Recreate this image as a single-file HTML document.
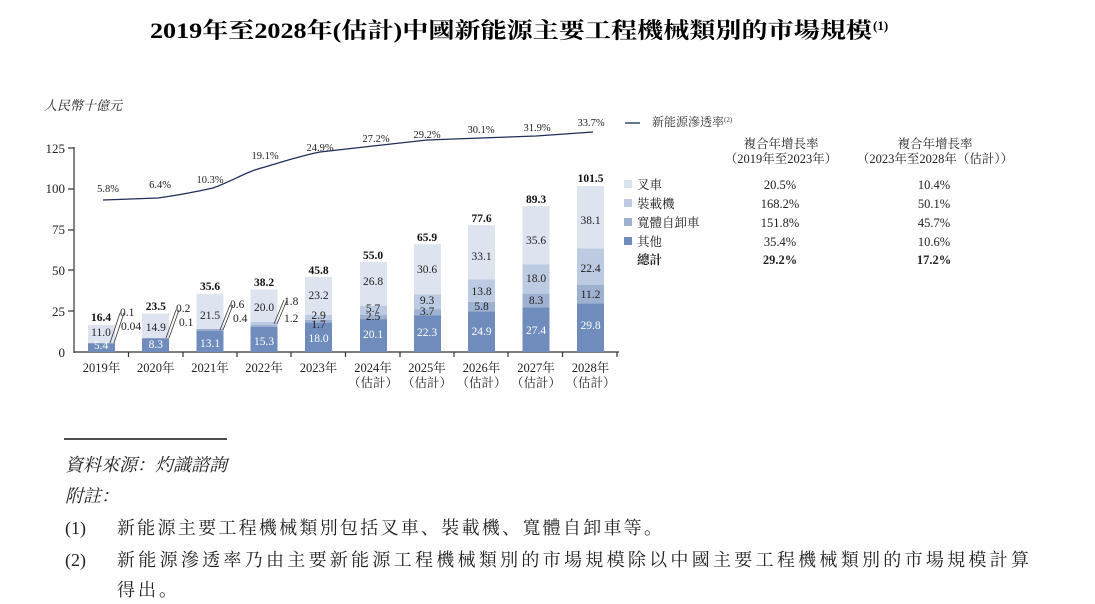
<!DOCTYPE html>
<html><head><meta charset="utf-8"><style>
html,body{margin:0;padding:0;background:#fff;}
svg{display:block;font-family:"Liberation Serif","Noto Serif CJK SC","Noto Sans CJK TC",serif;}
</style></head><body>
<svg width="1095" height="604" viewBox="0 0 1095 604" xmlns="http://www.w3.org/2000/svg">
<text x="150" y="38" font-size="22" font-weight="bold" textLength="722" lengthAdjust="spacingAndGlyphs">2019年至2028年(估計)中國新能源主要工程機械類別的市場規模</text>
<text x="873" y="30" font-size="13" font-weight="bold">(1)</text>

<text x="44" y="110" font-size="13" font-style="italic" fill="#222">人民幣十億元</text>

<g font-size="13" fill="#222" text-anchor="end">
<text x="65" y="357">0</text><text x="65" y="316">25</text><text x="65" y="275">50</text><text x="65" y="234">75</text><text x="65" y="193">100</text><text x="65" y="153">125</text>
</g>
<g stroke="#333" stroke-width="1.2">
<line x1="74" y1="147" x2="74" y2="353"/>
<line x1="74" y1="352" x2="619" y2="352"/>
<line x1="68" y1="148" x2="74" y2="148"/><line x1="68" y1="189" x2="74" y2="189"/><line x1="68" y1="230" x2="74" y2="230"/><line x1="68" y1="270" x2="74" y2="270"/><line x1="68" y1="311" x2="74" y2="311"/>
<line x1="128.5" y1="352" x2="128.5" y2="357"/><line x1="183" y1="352" x2="183" y2="357"/><line x1="237" y1="352" x2="237" y2="357"/><line x1="291" y1="352" x2="291" y2="357"/><line x1="345.5" y1="352" x2="345.5" y2="357"/><line x1="400" y1="352" x2="400" y2="357"/><line x1="454" y1="352" x2="454" y2="357"/><line x1="508" y1="352" x2="508" y2="357"/><line x1="562.5" y1="352" x2="562.5" y2="357"/><line x1="617" y1="352" x2="617" y2="357"/>
</g>

<g>
<rect x="88" y="343.2" width="27" height="8.8" fill="#6f8cbd"/>
<rect x="88" y="325" width="27" height="18" fill="#dde4f0"/>
<rect x="142" y="338.4" width="27" height="13.6" fill="#6f8cbd"/>
<rect x="142" y="338" width="27" height="0.6" fill="#9fb1d0"/>
<rect x="142" y="313.6" width="27" height="24.4" fill="#dde4f0"/>
<rect x="196.5" y="330.6" width="27" height="21.4" fill="#6f8cbd"/>
<rect x="196.5" y="329" width="27" height="1.6" fill="#9fb1d0"/>
<rect x="196.5" y="293.8" width="27" height="35.2" fill="#dde4f0"/>
<rect x="250.5" y="327" width="27" height="25" fill="#6f8cbd"/>
<rect x="250.5" y="325" width="27" height="2" fill="#9fb1d0"/>
<rect x="250.5" y="322" width="27" height="3" fill="#bccbe2"/>
<rect x="250.5" y="289.5" width="27" height="32.5" fill="#dde4f0"/>
<rect x="305" y="322.6" width="27" height="29.4" fill="#6f8cbd"/>
<rect x="305" y="319.8" width="27" height="2.8" fill="#9fb1d0"/>
<rect x="305" y="315" width="27" height="4.8" fill="#bccbe2"/>
<rect x="305" y="277" width="27" height="38" fill="#dde4f0"/>
<rect x="360" y="319.1" width="27" height="32.9" fill="#6f8cbd"/>
<rect x="360" y="315" width="27" height="4.1" fill="#9fb1d0"/>
<rect x="360" y="305.7" width="27" height="9.3" fill="#bccbe2"/>
<rect x="360" y="262" width="27" height="43.7" fill="#dde4f0"/>
<rect x="414" y="315.5" width="27" height="36.5" fill="#6f8cbd"/>
<rect x="414" y="309.5" width="27" height="6" fill="#9fb1d0"/>
<rect x="414" y="294.3" width="27" height="15.2" fill="#bccbe2"/>
<rect x="414" y="244.3" width="27" height="50" fill="#dde4f0"/>
<rect x="468" y="311.3" width="27" height="40.7" fill="#6f8cbd"/>
<rect x="468" y="301.8" width="27" height="9.5" fill="#9fb1d0"/>
<rect x="468" y="279.2" width="27" height="22.6" fill="#bccbe2"/>
<rect x="468" y="225.1" width="27" height="54.1" fill="#dde4f0"/>
<rect x="522.5" y="307.2" width="27" height="44.8" fill="#6f8cbd"/>
<rect x="522.5" y="293.6" width="27" height="13.6" fill="#9fb1d0"/>
<rect x="522.5" y="264.2" width="27" height="29.4" fill="#bccbe2"/>
<rect x="522.5" y="206" width="27" height="58.2" fill="#dde4f0"/>
<rect x="577" y="303.3" width="27" height="48.7" fill="#6f8cbd"/>
<rect x="577" y="285" width="27" height="18.3" fill="#9fb1d0"/>
<rect x="577" y="248.4" width="27" height="36.6" fill="#bccbe2"/>
<rect x="577" y="186" width="27" height="62.4" fill="#dde4f0"/>
</g>

<g stroke="#333" stroke-width="0.8">
<line x1="110" y1="343" x2="120" y2="313"/><line x1="114" y1="343" x2="124" y2="313"/>
<line x1="166" y1="338" x2="176" y2="310"/><line x1="169" y1="338" x2="179" y2="310"/>
<line x1="220" y1="330" x2="230" y2="305"/><line x1="223" y1="330" x2="233" y2="305"/>
<line x1="274" y1="324" x2="284" y2="300"/><line x1="277" y1="324" x2="287" y2="300"/>
</g>

<g font-size="11.5" fill="#222" text-anchor="middle">
<text x="101" y="349" fill="#fff">5.4</text><text x="101" y="336">11.0</text>
<text x="155.75" y="348" fill="#fff">8.3</text><text x="155.75" y="331">14.9</text>
<text x="210" y="347" fill="#fff">13.1</text><text x="210" y="319">21.5</text>
<text x="264" y="345" fill="#fff">15.3</text><text x="264" y="311">20.0</text>
<text x="318.5" y="342" fill="#fff">18.0</text><text x="318.5" y="328">1.7</text><text x="318.5" y="319">2.9</text><text x="318.5" y="299">23.2</text>
<text x="373" y="338" fill="#fff">20.1</text><text x="373" y="320">2.5</text><text x="373" y="312">5.7</text><text x="373" y="285">26.8</text>
<text x="427" y="336" fill="#fff">22.3</text><text x="427" y="315">3.7</text><text x="427" y="304">9.3</text><text x="427" y="273">30.6</text>
<text x="481.5" y="335" fill="#fff">24.9</text><text x="481.5" y="310">5.8</text><text x="481.5" y="295">13.8</text><text x="481.5" y="260">33.1</text>
<text x="536" y="334" fill="#fff">27.4</text><text x="536" y="304">8.3</text><text x="536" y="282">18.0</text><text x="536" y="244">35.6</text>
<text x="590.5" y="329" fill="#fff">29.8</text><text x="590.5" y="298">11.2</text><text x="590.5" y="272">22.4</text><text x="590.5" y="224">38.1</text>
</g>
<g font-size="11.5" fill="#222" text-anchor="start">
<text x="120" y="316">0.1</text><text x="121" y="330">0.04</text>
<text x="176" y="312">0.2</text><text x="179" y="326">0.1</text>
<text x="230" y="308">0.6</text><text x="233" y="322">0.4</text>
<text x="284" y="305">1.8</text><text x="284" y="322">1.2</text>
</g>
<g font-size="11.5" font-weight="bold" fill="#111" text-anchor="middle">
<text x="101" y="321">16.4</text><text x="155.75" y="310">23.5</text><text x="210" y="290">35.6</text><text x="264" y="286">38.2</text><text x="318.5" y="274">45.8</text>
<text x="373" y="259">55.0</text><text x="427" y="241">65.9</text><text x="481.5" y="222">77.6</text><text x="536" y="203">89.3</text><text x="590.5" y="182">101.5</text>
</g>

<g font-size="12.5" fill="#222" text-anchor="middle">
<text x="101.5" y="372">2019年</text><text x="155.75" y="372">2020年</text><text x="210" y="372">2021年</text><text x="264" y="372">2022年</text><text x="318.5" y="372">2023年</text>
<text x="373" y="372">2024年</text><text x="427" y="372">2025年</text><text x="481.5" y="372">2026年</text><text x="536" y="372">2027年</text><text x="590.5" y="372">2028年</text>
<text x="373" y="387">（估計）</text><text x="427" y="387">（估計）</text><text x="481.5" y="387">（估計）</text><text x="536" y="387">（估計）</text><text x="590.5" y="387">（估計）</text>
</g>

<path d="M103,200 L158,198 C180,195 195,192 213,188 C235,180 245,172 265,167 C285,161 300,156 320,152 L373,146 L427,140 L481,138 L536,136 L593,132" fill="none" stroke="#1f2e5a" stroke-width="1.3"/>
<g font-size="10.5" fill="#222" text-anchor="middle">
<text x="108" y="192">5.8%</text><text x="160" y="188">6.4%</text><text x="210" y="183">10.3%</text><text x="265" y="159">19.1%</text><text x="320" y="151">24.9%</text>
<text x="376" y="142">27.2%</text><text x="427" y="138">29.2%</text><text x="481" y="133">30.1%</text><text x="537" y="131">31.9%</text><text x="591" y="126">33.7%</text>
</g>

<line x1="625" y1="123" x2="640" y2="123" stroke="#1f2e5a" stroke-width="1.3"/>
<text x="652" y="126" font-size="12" fill="#333">新能源滲透率<tspan font-size="7" dy="-4">(2)</tspan></text>
<g font-size="12.5" fill="#222" text-anchor="middle">
<text x="781" y="148">複合年增長率</text><text x="781" y="163">（2019年至2023年）</text>
<text x="935" y="148">複合年增長率</text><text x="935" y="163">（2023年至2028年（估計））</text>
</g>
<rect x="624" y="180" width="8" height="8" fill="#dde4f0"/>
<rect x="624" y="199" width="8" height="8" fill="#bccbe2"/>
<rect x="624" y="218" width="8" height="8" fill="#9fb1d0"/>
<rect x="624" y="237" width="8" height="8" fill="#6f8cbd"/>
<g font-size="12.5" fill="#222">
<text x="637" y="189">叉車</text><text x="637" y="208">裝載機</text><text x="637" y="227">寬體自卸車</text><text x="637" y="246">其他</text><text x="637" y="264" font-weight="bold">總計</text>
</g>
<g font-size="12.5" fill="#222" text-anchor="middle">
<text x="780" y="189">20.5%</text><text x="780" y="208">168.2%</text><text x="780" y="227">151.8%</text><text x="780" y="246">35.4%</text><text x="780" y="264" font-weight="bold">29.2%</text>
<text x="934" y="189">10.4%</text><text x="934" y="208">50.1%</text><text x="934" y="227">45.7%</text><text x="934" y="246">10.6%</text><text x="934" y="264" font-weight="bold">17.2%</text>
</g>

<line x1="64" y1="439" x2="227" y2="439" stroke="#111" stroke-width="1.5"/>
<g font-size="18" fill="#222">
<text x="65" y="471" font-style="italic">資料來源：灼識諮詢</text>
<text x="65" y="502" font-style="italic">附註：</text>
<text x="65" y="534">(1)</text>
<text x="117" y="534" textLength="545" lengthAdjust="spacing">新能源主要工程機械類別包括叉車、裝載機、寬體自卸車等。</text>
<text x="65" y="566">(2)</text>
<text x="117" y="566" textLength="912" lengthAdjust="spacing">新能源滲透率乃由主要新能源工程機械類別的市場規模除以中國主要工程機械類別的市場規模計算</text>
<text x="117" y="596" textLength="60" lengthAdjust="spacing">得出。</text>
</g>
</svg>
</body></html>
